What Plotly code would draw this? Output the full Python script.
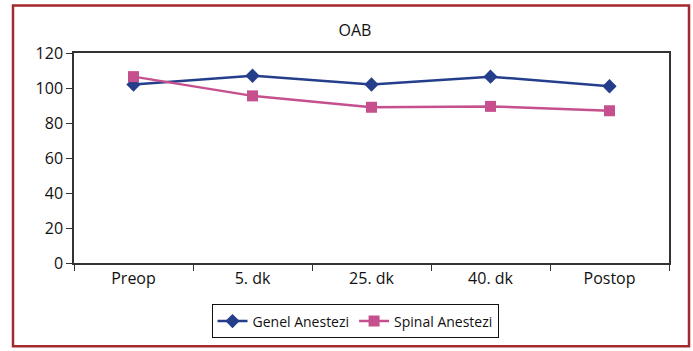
import plotly.graph_objects as go

categories = ["Preop", "5. dk", "25. dk", "40. dk", "Postop"]
genel = [102, 107, 102, 106.5, 101]
spinal = [106.5, 95.5, 89, 89.5, 87]

W, H = 693, 351
L, R, T, B = 74, 24, 53, 86
pw, ph = W - L - R, H - T - B

def px_x(x):
    return (x - L) / pw

def px_y(y):
    return (H - B - y) / ph

font = "Open Sans, sans-serif"

fig = go.Figure()
fig.add_trace(go.Scatter(x=categories, y=genel, name="Genel Anestezi", mode="lines+markers",
                         line=dict(color="#243E8C", width=2.5),
                         marker=dict(symbol="diamond", size=11, color="#243E8C")))
fig.add_trace(go.Scatter(x=categories, y=spinal, name="Spinal Anestezi", mode="lines+markers",
                         line=dict(color="#C64F8E", width=2.5),
                         marker=dict(symbol="square", size=11, color="#C64F8E")))

fig.update_layout(
    width=W, height=H, margin=dict(l=L, r=R, t=T, b=B),
    paper_bgcolor="white", plot_bgcolor="white",
    font=dict(family=font, size=16, color="#111"),
    title=dict(text="OAB", x=px_x(355), xref="paper", xanchor="center",
               y=1 - 30 / H, yanchor="middle", font=dict(size=16)),
    showlegend=True,
    legend=dict(orientation="h", x=px_x(355), xanchor="center", y=px_y(324), yanchor="middle",
                bordercolor="#111", borderwidth=1, font=dict(size=14),
                itemwidth=30, tracegroupgap=0),
    xaxis=dict(type="category", tickson="boundaries", ticks="outside", ticklen=6,
               tickcolor="#333", showline=True, linecolor="#333", linewidth=1.5,
               mirror=True, showgrid=False, range=[-0.5, 4.5]),
    yaxis=dict(range=[0, 120], tickvals=[0, 20, 40, 60, 80, 100, 120], ticks="outside",
               ticklen=6, tickcolor="#333", showline=True, linecolor="#333", linewidth=1.5,
               mirror=True, showgrid=False, zeroline=False),
    shapes=[dict(type="rect", xref="paper", yref="paper",
                 x0=px_x(13), x1=px_x(689), y0=px_y(349), y1=px_y(5),
                 line=dict(color="#A3292E", width=2.5), fillcolor="rgba(0,0,0,0)")],
)

fig.write_html("out.html")
